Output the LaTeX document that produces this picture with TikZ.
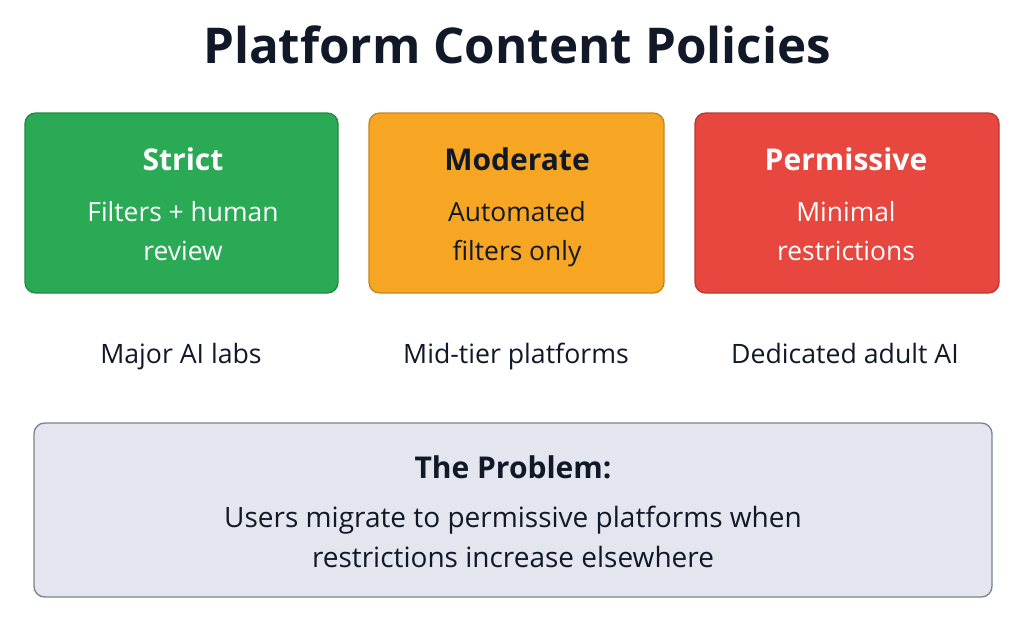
\documentclass[tikz,border=0pt]{standalone}
\usepackage{fontspec}
\setmainfont{Open Sans}
\begin{document}
\begin{tikzpicture}[x=0.75pt,y=-0.75pt,
 box/.style={draw=#1!80!black,line width=1pt,rounded corners=8pt},
 ttl/.style={font=\fontsize{22.5}{26}\selectfont\bfseries},
 body/.style={font=\fontsize{19.8}{29}\selectfont,align=center,anchor=north},
 lab/.style={font=\fontsize{20}{24}\selectfont,text=ink}]
\definecolor{ink}{HTML}{111827}
\definecolor{cg}{HTML}{2BAA55}
\definecolor{co}{HTML}{F6A623}
\definecolor{cr}{HTML}{E8473F}
\definecolor{cb}{HTML}{E3E6EE}
\definecolor{cbd}{HTML}{7A8294}
\useasboundingbox (0,0) rectangle (1024,632);
\node[font=\fontsize{37}{44}\selectfont\bfseries,text=ink] (title) at (517,45) {Platform Content Policies};
\path[box=cg,fill=cg] (25,113) rectangle (338,293);
\path[box=co,fill=co] (369,113) rectangle (664,293);
\path[box=cr,fill=cr] (695,113) rectangle (999,293);
\node[ttl,text=white] (s) at (183,159) {Strict};
\node[body,text=white] (sb) at (183,197) {Filters + human\\review};
\node[ttl,text=ink] (m) at (517,159) {Moderate};
\node[body,text=ink] (mb) at (517,197) {Automated\\filters only};
\node[ttl,text=white] (p) at (846,159) {Permissive};
\node[body,text=white] (pb) at (846,197) {Minimal\\restrictions};
\node[lab,text depth=0pt,text height=15pt] (l1) at (181,353) {Major AI labs};
\node[lab,text depth=0pt,text height=15pt] (l2) at (516,353) {Mid-tier platforms};
\node[lab,text depth=0pt,text height=15pt] (l3) at (845,353) {Dedicated adult AI};
\path[draw=cbd,line width=1pt,fill=cb,rounded corners=8pt] (34,423) rectangle (992,597);
\node[ttl,text=ink] (pr) at (513,467) {The Problem:};
\node[body,anchor=center,font=\fontsize{21}{30}\selectfont,text=ink] (prb) at (513,537) {Users migrate to permissive platforms when\\restrictions increase elsewhere};
\end{tikzpicture}
\end{document}
